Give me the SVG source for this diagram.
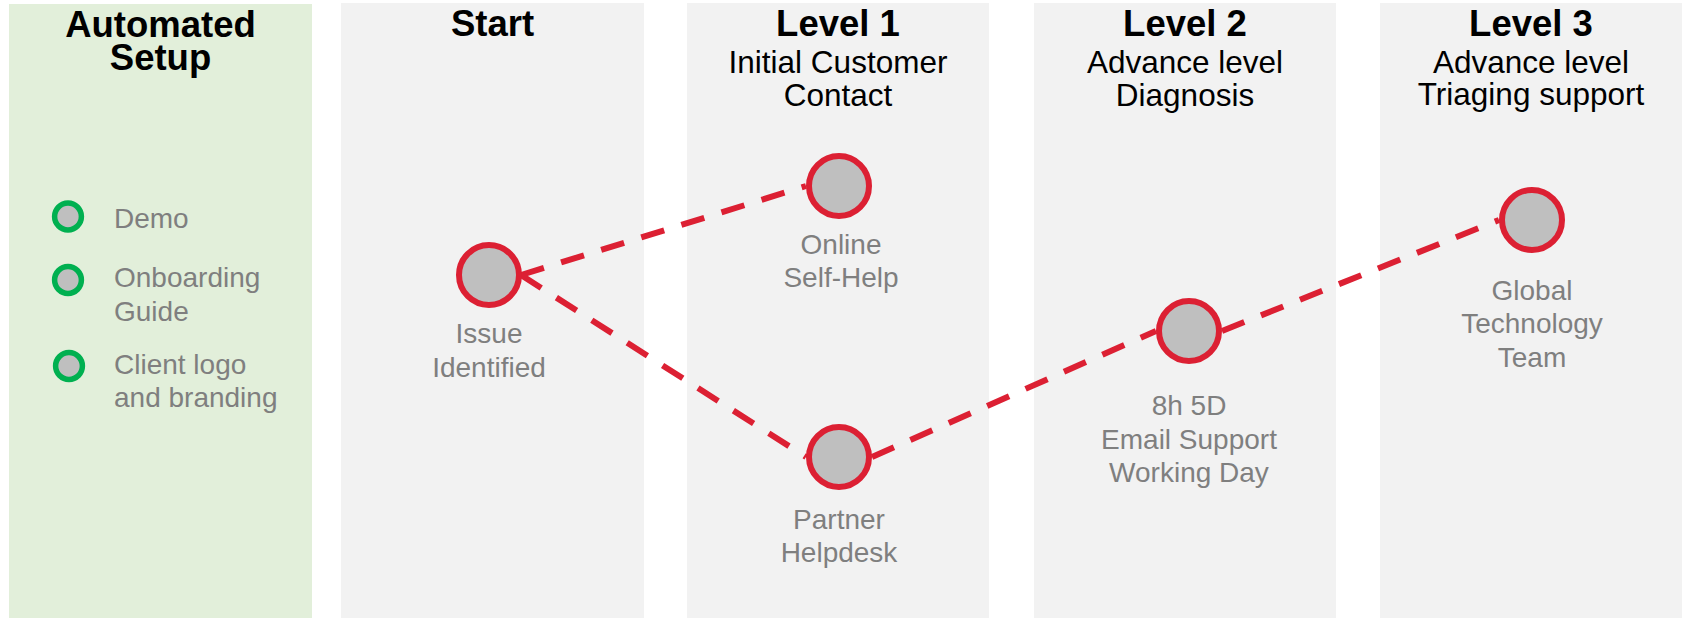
<svg xmlns="http://www.w3.org/2000/svg" width="1682" height="618" viewBox="0 0 1682 618">
  <style>
    .panel { fill: #F2F2F2; }
    .panel-green { fill: #E2EFDA; }
    .title { font-family: "Liberation Sans", Arial, sans-serif; font-weight: bold; font-size: 36.5px; fill: #000; text-anchor: middle; }
    .sub { font-family: "Liberation Sans", Arial, sans-serif; font-weight: normal; font-size: 31.5px; fill: #000; }
    .label { font-family: "Liberation Sans", Arial, sans-serif; font-size: 28px; fill: #7F7F7F; text-anchor: middle; }
    .item { font-family: "Liberation Sans", Arial, sans-serif; font-size: 28px; fill: #7F7F7F; }
    .step { fill: #BFBFBF; stroke: #DC2033; stroke-width: 6; }
    .dot { fill: #BFBFBF; stroke: #00B050; stroke-width: 5.5; }
    .link { fill: none; stroke: #DC2033; stroke-width: 6; stroke-dasharray: 24 18; }
  </style>

  <!-- column backgrounds -->
  <g id="columns">
    <rect class="panel-green" x="9" y="4" width="303" height="614"/>
    <rect class="panel" x="341" y="3" width="303" height="615"/>
    <rect class="panel" x="687" y="3" width="302" height="615"/>
    <rect class="panel" x="1034" y="3" width="302" height="615"/>
    <rect class="panel" x="1380" y="3" width="302" height="615"/>
  </g>

  <!-- column headings -->
  <g id="headings">
    <text class="title" x="160.5" y="37">Automated<tspan x="160.5" y="69.5">Setup</tspan></text>
    <text class="title" x="492.5" y="36">Start</text>
    <text class="title" x="838" y="35.5">Level 1<tspan class="sub" x="838" y="73.3">Initial Customer</tspan><tspan class="sub" x="838" y="106">Contact</tspan></text>
    <text class="title" x="1185" y="35.5">Level 2<tspan class="sub" x="1185" y="73">Advance level</tspan><tspan class="sub" x="1185" y="105.5">Diagnosis</tspan></text>
    <text class="title" x="1531" y="35.5">Level 3<tspan class="sub" x="1531" y="72.7">Advance level</tspan><tspan class="sub" x="1531" y="105">Triaging support</tspan></text>
  </g>

  <!-- setup checklist -->
  <g id="setup-demo">
    <circle class="dot" cx="68" cy="216.5" r="13.4"/>
    <text class="item" x="114" y="228">Demo</text>
  </g>
  <g id="setup-onboarding">
    <circle class="dot" cx="68" cy="280" r="13.4"/>
    <text class="item" x="114" y="287">Onboarding<tspan x="114" y="321">Guide</tspan></text>
  </g>
  <g id="setup-branding">
    <circle class="dot" cx="69" cy="366" r="13.4"/>
    <text class="item" x="114" y="374">Client logo<tspan x="114" y="407">and branding</tspan></text>
  </g>

  <!-- dashed support paths -->
  <g id="connectors">
    <path class="link" d="M521 275 L806 186"/>
    <path class="link" d="M521 275 L806 457"/>
    <path class="link" d="M872 457 L1156 331"/>
    <path class="link" d="M1222 331 L1499 220"/>
  </g>

  <!-- support steps -->
  <g id="issue-identified">
    <circle class="step" cx="489" cy="275" r="30"/>
    <text class="label" x="489" y="343">Issue<tspan x="489" y="377">Identified</tspan></text>
  </g>
  <g id="online-self-help">
    <circle class="step" cx="839" cy="186" r="30"/>
    <text class="label" x="841" y="254">Online<tspan x="841" y="287">Self-Help</tspan></text>
  </g>
  <g id="partner-helpdesk">
    <circle class="step" cx="839" cy="457" r="30"/>
    <text class="label" x="839" y="529">Partner<tspan x="839" y="562">Helpdesk</tspan></text>
  </g>
  <g id="email-support">
    <circle class="step" cx="1189" cy="331" r="30"/>
    <text class="label" x="1189" y="415">8h 5D<tspan x="1189" y="449">Email Support</tspan><tspan x="1189" y="482">Working Day</tspan></text>
  </g>
  <g id="global-technology-team">
    <circle class="step" cx="1532" cy="220" r="30"/>
    <text class="label" x="1532" y="300">Global<tspan x="1532" y="333">Technology</tspan><tspan x="1532" y="367">Team</tspan></text>
  </g>
</svg>
